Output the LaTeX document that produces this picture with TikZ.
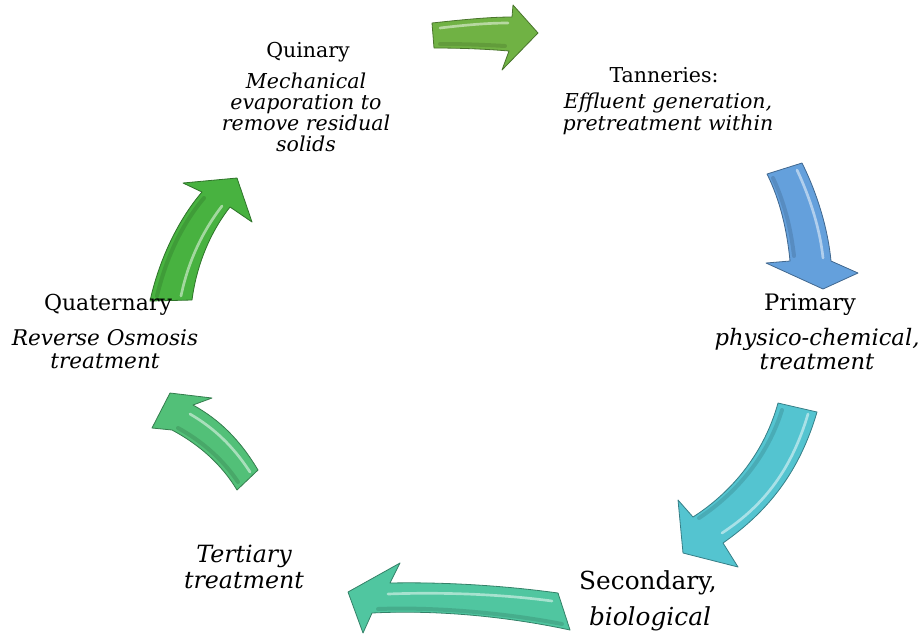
\documentclass[tikz,border=0pt]{standalone}
\usepackage{fontspec}
\setmainfont{DejaVu Serif}
\definecolor{cTop}{RGB}{112,178,68}
\definecolor{cBlue}{RGB}{100,160,220}
\definecolor{cCyan}{RGB}{84,196,208}
\definecolor{cTeal}{RGB}{80,198,160}
\definecolor{cGreenB}{RGB}{82,192,120}
\definecolor{cGreenC}{RGB}{72,178,64}
\tikzset{
  bigarrow/.style={fill=#1, draw=#1!65!black, line width=0.6pt, line join=round},
  shine/.style={draw=white, opacity=0.5, line width=2pt, line cap=round},
  shade2/.style={draw=black, opacity=0.12, line width=3pt, line cap=round},
  lbl/.style={inner sep=0pt, align=center, text=black},
}
\begin{document}
\begin{tikzpicture}[x=0.75pt,y=-0.75pt]
\useasboundingbox (0,0) rectangle (923,640);

% Arrow 1: top (pointing right)
\path[bigarrow=cTop] (432,23) .. controls (460,20) and (488,17) .. (512,17) -- (513,5) -- (538,33) -- (502,70) -- (509,51) .. controls (485,49) and (460,48) .. (434,48) -- cycle;
\draw[shine] (440,28) .. controls (465,25) and (488,23) .. (508,23);
\draw[shade2] (440,44) .. controls (465,44) and (488,45) .. (505,46);

% Arrow 2: blue (pointing down)
\path[bigarrow=cBlue] (802,163) .. controls (818,195) and (828,230) .. (831,261) -- (858,273) -- (823,289) -- (766,263) -- (790,261) .. controls (787,230) and (780,200) .. (767,174) -- cycle;
\draw[shine] (797,170) .. controls (811,200) and (820,230) .. (823,258);
\draw[shade2] (773,178) .. controls (785,204) and (791,230) .. (794,256);

% Arrow 3: cyan (pointing down-left)
\path[bigarrow=cCyan] (817,412) .. controls (800,470) and (770,510) .. (723,543) -- (738,567) -- (683,553) -- (678,500) -- (693,517) .. controls (735,490) and (765,450) .. (778,403) -- cycle;
\draw[shine] (808,414) .. controls (792,468) and (765,505) .. (722,533);
\draw[shade2] (782,410) .. controls (768,455) and (738,492) .. (699,518);

% Arrow 4: teal (pointing left)
\path[bigarrow=cTeal] (558,593) .. controls (500,585) and (440,582) .. (390,583) -- (400,563) -- (348,592) -- (363,633) -- (372,613) .. controls (430,610) and (500,615) .. (570,630) -- cycle;
\draw[shine] (552,601) .. controls (500,594) and (440,592) .. (388,594);
\draw[shade2] (562,624) .. controls (500,612) and (430,607) .. (378,609);

% Arrow 5: lower-left green (pointing up-left)
\path[bigarrow=cGreenB] (258,470) .. controls (240,440) and (220,420) .. (193,405) -- (212,398) -- (170,393) -- (152,428) -- (172,430) .. controls (200,445) and (222,465) .. (237,490) -- cycle;
\draw[shine] (250,472) .. controls (233,446) and (214,428) .. (190,414);
\draw[shade2] (238,482) .. controls (222,458) and (200,440) .. (178,428);

% Arrow 6: upper-left green (pointing up-right)
\path[bigarrow=cGreenC] (150,301) .. controls (159,260) and (178,220) .. (202,192) -- (183,183) -- (237,178) -- (252,222) -- (230,207) .. controls (212,230) and (197,262) .. (192,300) -- cycle;
\draw[shine] (181,296) .. controls (188,262) and (202,232) .. (222,206);
\draw[shade2] (157,296) .. controls (166,258) and (182,224) .. (204,198);

% Labels
\node[lbl, font=\fontsize{15.4}{16}\selectfont] (quinT) at (308,52) {Quinary};
\node[lbl, font=\fontsize{15.4}{15.75}\selectfont\itshape] (quinB) at (306,112) {Mechanical\\evaporation to\\remove residual\\solids};

\node[lbl, font=\fontsize{15.4}{16}\selectfont] (tanT) at (664,75) {Tanneries:};
\node[lbl, font=\fontsize{15.4}{16.5}\selectfont\itshape] (tanB) at (668,114) {Effluent generation,\\pretreatment within};

\node[lbl, font=\fontsize{17}{18}\selectfont] (priT) at (810,305) {Primary};
\node[lbl, font=\fontsize{17}{17.5}\selectfont\itshape] (priB) at (817,349) {physico-chemical,\\treatment};

\node[lbl, font=\fontsize{16.5}{18}\selectfont] (quaT) at (108,305) {Quaternary};
\node[lbl, font=\fontsize{16.2}{17.5}\selectfont\itshape] (quaB) at (105,349) {Reverse Osmosis\\treatment};

\node[lbl, font=\fontsize{17.8}{20}\selectfont\itshape] (terB) at (244,567) {Tertiary\\treatment};

\node[lbl, font=\fontsize{18.6}{20}\selectfont] (secT) at (648,583) {Secondary,};
\node[lbl, font=\fontsize{18.6}{20}\selectfont\itshape] (secB) at (650,619) {biological};
\end{tikzpicture}
\end{document}
